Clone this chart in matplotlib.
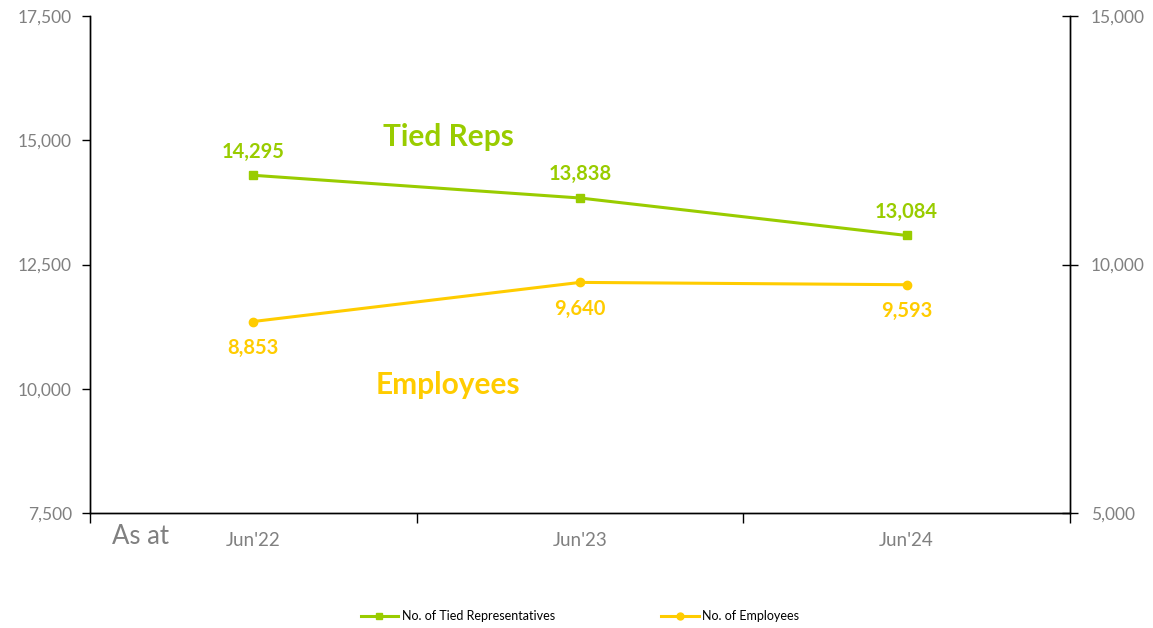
import matplotlib
matplotlib.use("Agg")
import matplotlib.pyplot as plt
from matplotlib.lines import Line2D

categories = ["Jun'22", "Jun'23", "Jun'24"]
tied_reps = [14295, 13838, 13084]
employees = [8853, 9640, 9593]
left_ticks = [7500, 10000, 12500, 15000, 17500]
right_ticks = [5000, 10000, 15000]

GREEN = "#99CC00"
YELLOW = "#FFCC00"
GRAY = "#808080"
FONT = ["Lato", "DejaVu Sans"]
plt.rcParams['font.family'] = FONT

W, H = 1153, 628
fig = plt.figure(figsize=(W / 100, H / 100), dpi=100)
ax = fig.add_axes([90 / W, 1 - 513 / H, (1070 - 90) / W, (513 - 16) / H])
ax2 = ax.twinx()

x = list(range(len(categories)))
ax.plot(x, tied_reps, color=GREEN, lw=2.2, marker="s", ms=6, zorder=3)
ax2.plot(x, employees, color=YELLOW, lw=2.2, marker="o", ms=6, zorder=3)

ax.set_xlim(-0.5, len(categories) - 0.5)
ax.set_ylim(7500, 17500)
ax2.set_ylim(5000, 15000)
ax.set_yticks(left_ticks)
ax.set_yticklabels([f"{v:,}" for v in left_ticks])
ax2.set_yticks(right_ticks)
ax2.set_yticklabels([f"{v:,}" for v in right_ticks])

ax.set_xticks([i + 0.5 for i in range(-1, len(categories))])
ax.set_xticklabels([])
ax.set_xticks(x, minor=True)
ax.set_xticklabels(categories, minor=True)
ax.tick_params(axis="x", which="minor", length=0, pad=14, labelsize=13.5, labelcolor=GRAY)
ax.tick_params(axis="x", which="major", length=7, width=1, color="black", direction="out")
ax.tick_params(axis="y", length=6, width=1, direction="out", labelsize=12.5, labelcolor=GRAY, pad=7)
ax2.tick_params(axis="y", length=12, width=1, direction="inout", labelsize=12.5, labelcolor=GRAY, pad=9)

for a in (ax, ax2):
    a.spines["top"].set_visible(False)
    for s in ("left", "right", "bottom"):
        a.spines[s].set_color("black")
        a.spines[s].set_linewidth(1)

for xi, v in zip(x, tied_reps):
    ax.annotate(f"{v:,}", (xi, v), xytext=(0, 17), textcoords="offset points",
                ha="center", va="center", color=GREEN, fontsize=14.5, fontweight="bold")
for xi, v in zip(x, employees):
    ax2.annotate(f"{v:,}", (xi, v), xytext=(0, -19), textcoords="offset points",
                 ha="center", va="center", color=YELLOW, fontsize=14.5, fontweight="bold")

fig.text(448 / W, 1 - 137 / H, "Tied Reps", color=GREEN, fontsize=21.5, fontweight="bold",
         ha="center", va="center")
fig.text(448 / W, 1 - 385 / H, "Employees", color=YELLOW, fontsize=21.5, fontweight="bold",
         ha="center", va="center")
fig.text(141 / W, 1 - 536 / H, "As at", color=GRAY, fontsize=18.5, ha="center", va="center")

handles = [
    Line2D([], [], color=GREEN, lw=2.2, marker="s", ms=5),
    Line2D([], [], color=YELLOW, lw=2.2, marker="o", ms=5),
]
fig.legend(handles, ["No. of Tied Representatives", "No. of Employees"], loc="center",
           bbox_to_anchor=(580 / W, 1 - 616 / H), ncol=2, frameon=False, fontsize=9,
           columnspacing=8.5, handlelength=3, handletextpad=0.3)

fig.savefig("out.png", dpi=100)
